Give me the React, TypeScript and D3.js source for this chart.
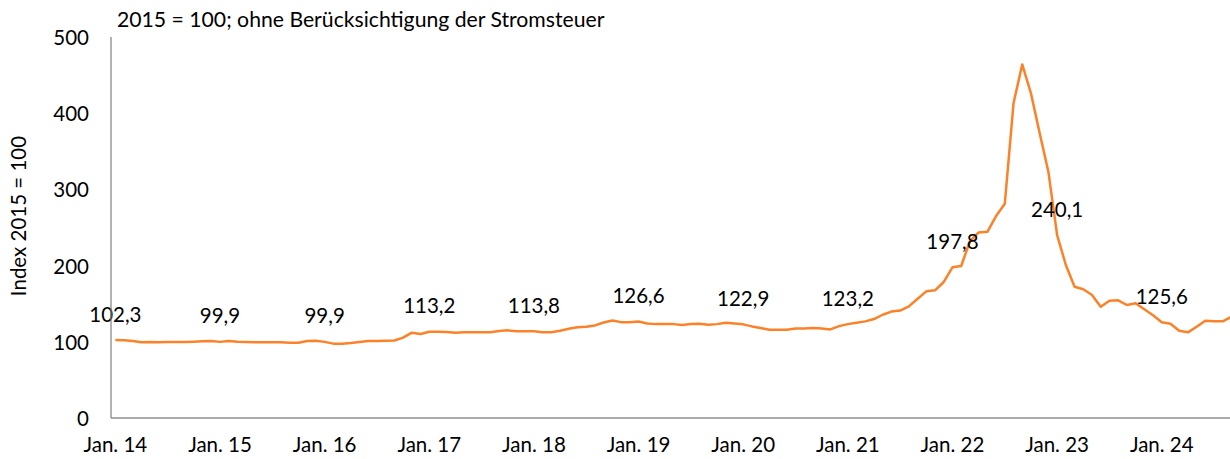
import { useMemo } from 'react';
import * as d3 from 'd3';

// Strompreisindex, monatlich Jan. 2014 bis Sep. 2024
const START = new Date(2014, 0, 1);
const VALUES: number[] = [
  102.3, 102.0, 101.1, 99.3, 99.7, 99.3, 99.7, 99.7, 99.9, 100.2, 100.6, 101.1,
  99.9, 101.0, 100.2, 99.7, 99.3, 99.3, 99.3, 99.3, 98.8, 98.8, 101.0, 101.5,
  99.9, 97.6, 97.6, 98.4, 99.7, 101.0, 101.0, 101.5, 101.7, 105.4, 112.0, 110.2,
  113.2, 113.2, 112.8, 112.0, 112.4, 112.4, 112.4, 112.4, 114.1, 115.0, 113.7, 113.7,
  113.8, 112.4, 112.4, 114.6, 117.2, 119.0, 119.7, 121.5, 125.4, 128.0, 125.8, 125.8,
  126.6, 124.1, 123.2, 123.2, 123.2, 122.0, 123.4, 123.6, 122.3, 123.2, 125.0, 124.1,
  122.9, 120.2, 118.0, 115.8, 115.8, 115.8, 117.5, 117.5, 118.0, 117.5, 116.2, 120.6,
  123.2, 125.0, 126.8, 129.9, 135.5, 139.7, 141.0, 146.5, 156.5, 166.2, 167.5, 178.5,
  197.8, 199.5, 232.0, 243.5, 244.3, 265.0, 281.2, 413.0, 464.0, 426.0, 373.6, 323.0,
  240.1, 200.8, 172.3, 168.9, 161.4, 146.0, 154.0, 154.4, 148.3, 150.5, 142.6, 134.8,
  125.6, 123.8, 114.6, 112.4, 119.8, 127.7, 126.9, 126.9, 133.0,
];
const Y_TICKS = [0, 100, 200, 300, 400, 500];
const TITLE = '2015 = 100; ohne Berücksichtigung der Stromsteuer';
const Y_LABEL = 'Index 2015 = 100';

const W = 1230;
const H = 459;
const FONT = 'Lato, "Open Sans", sans-serif';
const LINE_COLOR = '#FB8229';

const fmtComma = (v: number) => d3.format('.1f')(v).replace('.', ',');
const fmtMonth = (d: Date) => `Jan. ${d3.timeFormat('%y')(d)}`;

export default function App() {
  const months = useMemo(
    () => VALUES.map((_, i) => d3.timeMonth.offset(START, i)),
    []
  );

  const left = 111;
  const step = 8.72;
  const x = d3.scaleBand<number>()
    .domain(VALUES.map((_, i) => i))
    .range([left, left + VALUES.length * step])
    .paddingInner(0)
    .paddingOuter(0);
  const cx = (i: number) => (x(i) ?? 0) + x.bandwidth() / 2;
  const y = d3.scaleLinear().domain([0, 500]).range([418, 37]);

  const line = d3.line<number>()
    .x((_, i) => cx(i))
    .y(d => y(d));

  const janIdx = months.map((d, i) => (d.getMonth() === 0 ? i : -1)).filter(i => i >= 0);

  return (
    <svg
      width={W}
      height={H}
      style={{ position: 'absolute', left: 0, top: 0, fontFamily: FONT, background: 'white' }}
    >
      <text x={117} y={27} fontSize={21.2} fill="#000">{TITLE}</text>

      {/* y axis title */}
      <text
        transform="translate(18,216) rotate(-90)"
        textAnchor="middle"
        dominantBaseline="central"
        fontSize={20.5}
        fill="#000"
      >
        {Y_LABEL}
      </text>

      {/* y ticks */}
      {Y_TICKS.map(t => (
        <text key={t} x={89} y={y(t)} textAnchor="end" dominantBaseline="central" fontSize={20.5} fill="#000">
          {t}
        </text>
      ))}

      {/* x ticks */}
      {janIdx.map(i => (
        <text key={i} x={cx(i)} y={452} textAnchor="middle" fontSize={20.5} fill="#000">
          {fmtMonth(months[i])}
        </text>
      ))}

      <path d={line(VALUES) ?? ''} fill="none" stroke={LINE_COLOR} strokeWidth={2.5} strokeLinejoin="round" />

      {/* data labels on January values */}
      {janIdx.map(i => (
        <text key={i} x={cx(i)} y={y(VALUES[i]) - 18.5} textAnchor="middle" fontSize={20.5} fill="#000">
          {fmtComma(VALUES[i])}
        </text>
      ))}

      {/* axes */}
      <line x1={left} x2={W} y1={y(0)} y2={y(0)} stroke="#595959" strokeWidth={1.2} />
      <line x1={left} x2={left} y1={y(500)} y2={y(0)} stroke="#7f7f7f" strokeWidth={1.2} />
    </svg>
  );
}
